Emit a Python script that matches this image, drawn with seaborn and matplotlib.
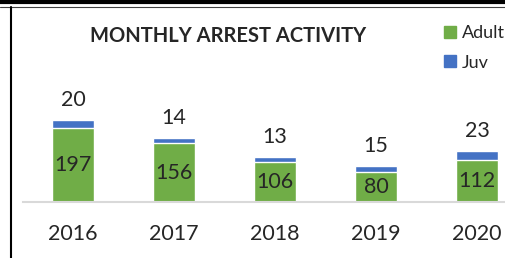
import pandas as pd
import matplotlib.pyplot as plt
import seaborn as sns
from matplotlib.lines import Line2D

# Yearly arrests split into adult and juvenile
years = ['2016', '2017', '2018', '2019', '2020']
adult = [197, 156, 106, 80, 112]
juv = [20, 14, 13, 15, 23]

df = pd.DataFrame({'year': years, 'adult': adult, 'juv': juv})
df['total'] = df['adult'] + df['juv']

sns.set_style('white')
plt.rcParams['font.family'] = ['Lato', 'DejaVu Sans']

fig = plt.figure(figsize=(5.06, 2.58), dpi=100)
ax = fig.add_axes([22.5 / 506, 56 / 258, 505 / 506, 172 / 258])

# stacked look: total in blue behind, adult in green in front
sns.barplot(data=df, x='year', y='total', color='#4472C4', saturation=1, width=0.42, ax=ax)
sns.barplot(data=df, x='year', y='adult', color='#70AD47', saturation=1, width=0.42, ax=ax)

ax.bar_label(ax.containers[1], labels=[str(v) for v in adult], label_type='center', fontsize=15.5)
ax.bar_label(ax.containers[0], labels=[str(v) for v in juv], padding=7, fontsize=15.5)

ax.set_xlim(-0.5, 4.5)
ax.set_ylim(0, 455)
ax.set_xlabel('')
ax.set_ylabel('')
ax.set_yticks([])
ax.tick_params(axis='x', length=0, pad=16, labelsize=15.5)
for s in ['top', 'right', 'left']:
    ax.spines[s].set_visible(False)
ax.spines['bottom'].set_color('#D9D9D9')
ax.spines['bottom'].set_linewidth(1.5)

fig.text(228 / 506, 1 - 36 / 258, 'MONTHLY ARREST ACTIVITY', ha='center', va='center',
         fontsize=14.5, fontweight='bold')

handles = [plt.Rectangle((0, 0), 1, 1, color='#70AD47'), plt.Rectangle((0, 0), 1, 1, color='#4472C4')]
fig.legend(handles, ['Adult', 'Juv'], loc='upper left', bbox_to_anchor=(444 / 506, 1 - 25 / 258),
           frameon=False, fontsize=13, handlelength=0.65, handleheight=0.65,
           handletextpad=0.35, labelspacing=0.75, borderaxespad=0, borderpad=0)

# frame lines of the original screenshot
fig.add_artist(Line2D([0, 1], [1 - 1.5 / 258, 1 - 1.5 / 258], color='black', lw=3))
fig.add_artist(Line2D([0, 1], [1 - 7 / 258, 1 - 7 / 258], color='#404040', lw=0.8))
fig.add_artist(Line2D([11 / 506, 11 / 506], [0, 1 - 7 / 258], color='black', lw=1.5))

fig.savefig('out.png', dpi=100)
